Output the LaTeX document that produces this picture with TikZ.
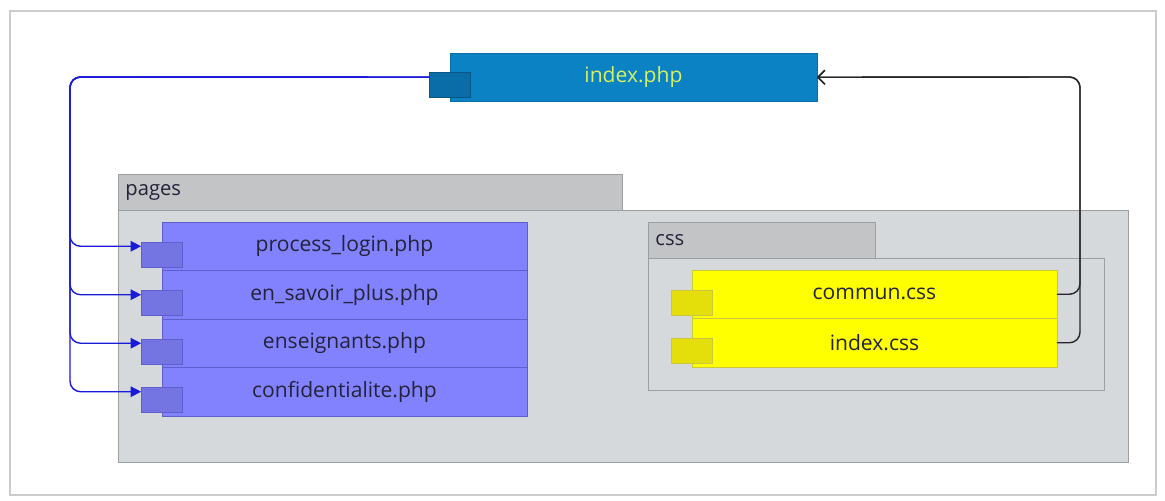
\documentclass[tikz,border=0pt]{standalone}
\usepackage{fontspec}
\setmainfont{Open Sans}
\usetikzlibrary{arrows.meta,positioning,calc}
\definecolor{idxblue}{HTML}{0A82C3}
\definecolor{idxport}{HTML}{0A6DA8}
\definecolor{idxtext}{HTML}{D6F060}
\definecolor{pagefill}{HTML}{8282FF}
\definecolor{pageline}{HTML}{5E5ECC}
\definecolor{pageport}{HTML}{7474E2}
\definecolor{cssfill}{HTML}{FFFF00}
\definecolor{cssline}{HTML}{C9C93A}
\definecolor{cssport}{HTML}{E4DF0A}
\definecolor{tabgray}{HTML}{C2C4C6}
\definecolor{bodygray}{HTML}{D6D9DB}
\definecolor{pkgline}{HTML}{9C9EA0}
\definecolor{linkblue}{HTML}{1A1AD8}
\definecolor{textdark}{HTML}{23233A}

\begin{document}
\begin{tikzpicture}[
  x=0.02cm, y=-0.02cm,
  pkgtab/.style={rectangle,draw=pkgline,fill=tabgray,anchor=north west,
                 minimum height=0.72cm,inner sep=0pt},
  pkgbody/.style={rectangle,draw=pkgline,fill=bodygray,anchor=north west,inner sep=0pt},
  pkglabel/.style={anchor=west,font=\fontsize{11.5}{13}\selectfont,text=textdark,inner sep=4pt},
  filebox/.style={rectangle,minimum width=7.3cm,minimum height=0.97cm,
                  outer sep=0pt,font=\fontsize{12}{14}\selectfont},
  pagefile/.style={filebox,draw=pageline,fill=pagefill,text=textdark},
  cssfile/.style={filebox,draw=cssline,fill=cssfill,text=textdark},
  port/.style={rectangle,minimum width=0.82cm,minimum height=0.5cm,inner sep=0pt},
  uselink/.style={-{Triangle[length=6pt,width=6pt]},draw=linkblue,thick,rounded corners=6pt},
  stylelink/.style={-{Straight Barb[length=4pt,width=8pt]},draw=black!85,thick,rounded corners=6pt}
]
  \useasboundingbox (0,0) rectangle (1165,500);
  \draw[gray!40,line width=1.2pt] (10,11) rectangle (1156,495);

  % packages
  \node[pkgtab,minimum width=10.08cm] (pagestab) at (118,174) {};
  \node[pkgbody,minimum width=20.2cm,minimum height=5.04cm] (pagesbody) at (118,210) {};
  \node[pkglabel] (pageslbl) at (pagestab.west) {pages};
  \node[pkgtab,minimum width=4.54cm] (csstab) at (648,222) {};
  \node[pkgbody,minimum width=9.12cm,minimum height=2.64cm] (cssbody) at (648,258) {};
  \node[pkglabel] (csslbl) at (csstab.west) {css};

  % index
  \node[filebox,draw=idxport,fill=idxblue,text=idxtext,minimum width=7.34cm,
        anchor=north west] (index) at (450,53) {index.php};
  \node[port,fill=idxport,draw=idxport!80!black] (port-index) at ($(index.west)+(0,7.5)$) {};

  % pages
  \node[pagefile,anchor=north west] (login) at (162,222) {process\_login.php};
  \node[pagefile,below=0pt of login] (savoir) {en\_savoir\_plus.php};
  \node[pagefile,below=0pt of savoir] (teachers) {enseignants.php};
  \node[pagefile,below=0pt of teachers] (privacy) {confidentialite.php};
  \foreach \f in {login,savoir,teachers,privacy}
    \node[port,fill=pageport,draw=pageline] (port-\f) at ($(\f.west)+(0,8.5)$) {};

  % css
  \node[cssfile,anchor=north west] (commun) at (692,270) {commun.css};
  \node[cssfile,below=0pt of commun] (idxcss) {index.css};
  \foreach \f in {commun,idxcss}
    \node[port,fill=cssport,draw=cssline] (port-\f) at ($(\f.west)+(0,8.5)$) {};

  % links
  \coordinate (trunk) at (70,77);
  \coordinate (cssbus) at (1080,77);
  \foreach \f in {login,savoir,teachers,privacy}
    \draw[uselink] (port-index.west |- index) -- (trunk) |- (port-\f.west |- \f);
  \foreach \f in {commun,idxcss}
    \draw[stylelink] (\f.east) -| (cssbus) -- (index.east);
\end{tikzpicture}
\end{document}
